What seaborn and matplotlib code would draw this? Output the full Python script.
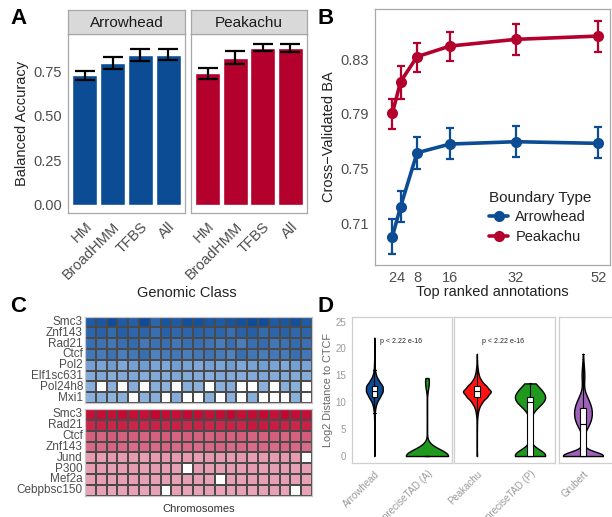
import numpy as np
import pandas as pd
import matplotlib
matplotlib.use("Agg")
from matplotlib import pyplot as plt
from matplotlib.colors import LinearSegmentedColormap
from matplotlib.lines import Line2D
import seaborn as sns

# ---------------- data ----------------
# A: balanced accuracy by genomic class
classes = ["HM", "BroadHMM", "TFBS", "All"]
arrow_ba = [0.727, 0.797, 0.843, 0.843]
arrow_lo = [0.700, 0.765, 0.810, 0.812]
arrow_hi = [0.755, 0.830, 0.875, 0.875]
peak_ba = [0.740, 0.827, 0.884, 0.882]
peak_lo = [0.710, 0.790, 0.864, 0.860]
peak_hi = [0.770, 0.865, 0.905, 0.903]

# B: cross-validated BA vs number of top annotations
top_n = [2, 4, 8, 16, 32, 52]
arrow_cv = [0.7002, 0.7221, 0.7616, 0.7680, 0.7697, 0.7685]
arrow_cv_lo = [0.6873, 0.7112, 0.7500, 0.7568, 0.7587, 0.7575]
arrow_cv_hi = [0.7131, 0.7338, 0.7733, 0.7795, 0.7812, 0.7802]
peak_cv = [0.7904, 0.8136, 0.8319, 0.8397, 0.8446, 0.8470]
peak_cv_lo = [0.7790, 0.8010, 0.8205, 0.8288, 0.8329, 0.8355]
peak_cv_hi = [0.8010, 0.8250, 0.8420, 0.8500, 0.8556, 0.8582]

# C: per-chromosome importance of top annotations (nan = not selected)
chroms = ["chr%d" % i for i in range(1, 22)]
na = np.nan
arrow_rows = ["Smc3", "Znf143", "Rad21", "Ctcf", "Pol2", "Elf1sc631", "Pol24h8", "Mxi1"]
arrow_imp = [
    [0.90, 0.92, 0.97, 0.90, 0.88, 0.98, 0.85, 0.93, 0.90, 0.96, 0.95, 0.92, 0.90, 0.93, 0.95, 0.98, 0.97, 0.90, 0.92, 0.96, 0.90],
    [0.85, 0.86, 0.82, 0.88, 0.84, 0.85, 0.80, 0.87, 0.83, 0.85, 0.86, 0.84, 0.85, 0.80, 0.86, 0.88, 0.82, 0.85, 0.86, 0.83, 0.85],
    [0.80, 0.78, 0.76, 0.80, 0.82, 0.75, 0.78, 0.80, 0.76, 0.80, 0.79, 0.77, 0.73, 0.80, 0.72, 0.80, 0.81, 0.76, 0.78, 0.82, 0.79],
    [0.76, 0.74, 0.78, 0.72, 0.75, 0.80, 0.70, 0.74, 0.76, 0.72, 0.75, 0.77, 0.74, 0.70, 0.80, 0.76, 0.73, 0.75, 0.74, 0.80, 0.76],
    [0.55, 0.52, 0.56, 0.50, 0.54, 0.56, 0.52, 0.50, 0.55, 0.53, 0.50, 0.54, 0.52, 0.56, 0.50, 0.53, 0.55, 0.52, 0.50, 0.54, 0.52],
    [0.48, 0.50, 0.46, 0.48, 0.50, 0.46, 0.48, 0.45, 0.50, 0.48, 0.47, 0.46, 0.50, 0.48, 0.45, 0.48, 0.50, 0.46, 0.48, 0.47, 0.45],
    [0.44, na, 0.42, na, 0.45, na, 0.43, 0.41, na, 0.44, 0.42, na, 0.43, 0.45, na, na, 0.42, na, 0.44, 0.43, na],
    [0.42, 0.44, 0.41, 0.43, na, 0.42, 0.44, na, 0.45, na, na, 0.43, na, 0.42, na, 0.44, na, na, na, 0.43, na],
]
peak_rows = ["Smc3", "Rad21", "Ctcf", "Znf143", "Jund", "P300", "Mef2a", "Cebpbsc150"]
peak_imp = [
    [0.93, 0.95, 0.94, 0.96, 0.94, 0.93, 0.97, 0.95, 0.94, 0.96, 0.95, 0.93, 0.95, 0.97, 0.94, 0.95, 0.96, 0.93, 0.97, 0.95, 0.94],
    [0.85, 0.86, 0.84, 0.87, 0.85, 0.84, 0.86, 0.85, 0.87, 0.84, 0.86, 0.85, 0.84, 0.86, 0.85, 0.90, 0.89, 0.88, 0.86, 0.85, 0.87],
    [0.62, 0.60, 0.63, 0.61, 0.62, 0.60, 0.61, 0.63, 0.60, 0.62, 0.61, 0.60, 0.63, 0.61, 0.62, 0.60, 0.61, 0.62, 0.60, 0.61, 0.63],
    [0.58, 0.57, 0.59, 0.58, 0.56, 0.58, 0.57, 0.59, 0.57, 0.58, 0.56, 0.58, 0.59, 0.57, 0.58, 0.56, 0.58, 0.57, 0.59, 0.58, 0.57],
    [0.30, 0.28, 0.31, 0.29, 0.30, 0.28, 0.30, 0.31, 0.29, 0.30, 0.28, 0.31, 0.29, 0.30, 0.31, 0.28, 0.30, 0.29, 0.31, 0.30, na],
    [0.28, 0.29, 0.27, 0.28, 0.30, 0.27, 0.29, 0.28, 0.27, na, 0.29, 0.28, 0.27, 0.29, 0.28, 0.30, 0.27, 0.28, 0.29, 0.27, 0.28],
    [0.26, 0.27, 0.25, 0.26, 0.27, 0.25, 0.26, 0.27, 0.25, 0.26, 0.27, 0.25, na, 0.26, 0.25, 0.27, 0.26, 0.25, 0.27, 0.26, 0.25],
    [0.25, 0.26, 0.24, 0.25, 0.26, 0.24, 0.25, na, 0.26, 0.24, 0.25, 0.26, 0.24, 0.25, 0.26, 0.24, 0.25, 0.26, 0.24, na, 0.25],
]

# D: log2 distance to CTCF, binned (value, count)
arrow_d_vals = [0, 1, 2, 3, 4, 5, 6, 7, 8, 9, 10, 11, 12, 13, 14, 15, 16, 17, 18, 19, 20, 21, 22]
arrow_d_cnts = [6, 1, 1, 1, 1, 2, 3, 5, 10, 25, 60, 140, 210, 210, 110, 40, 15, 8, 4, 2, 1, 1, 1]
ptad_a_vals = [0, 0.5, 1, 1.5, 2, 4, 6, 8, 10, 12, 13, 13.5, 14, 14.5]
ptad_a_cnts = [1500, 100, 50, 20, 6, 2, 2, 2, 2, 3, 20, 50, 60, 25]
peak_d_vals = [0, 1, 2, 3, 4, 5, 6, 7, 8, 9, 10, 11, 12, 13, 14, 15, 16, 17, 18, 19]
peak_d_cnts = [4, 1, 1, 1, 1, 2, 3, 6, 15, 35, 80, 160, 230, 150, 70, 30, 15, 6, 2, 1]
ptad_p_vals = [0, 0.5, 1, 1.5, 2, 4, 6, 7, 8, 9, 10, 11, 12, 13, 13.5]
ptad_p_cnts = [330, 80, 25, 5, 3, 3, 3, 5, 20, 60, 170, 200, 140, 80, 25]
grub_vals = [0, 0.5, 1, 2, 3, 4, 5, 6, 7, 8, 9, 10, 11, 12, 13, 14, 15, 16, 17, 18, 19]
grub_cnts = [250, 40, 15, 6, 6, 8, 30, 55, 70, 75, 70, 55, 35, 15, 8, 10, 12, 10, 6, 3, 1]
d_groups = ["Arrowhead", "preciseTAD (A)", "Peakachu", "preciseTAD (P)", "Grubert"]

# ---------------- style ----------------
sns.set_theme(style="white")
plt.rcParams['font.family'] = ['Liberation Sans', 'DejaVu Sans']

blue = "#0b4c94"
red = "#b3002d"
green = "#1f9a1f"
bright_red = "#ff1212"
purple = "#9e62b8"
txt = "#4d4d4d"
edge = "#a8a8a8"

W, H = 612, 517
fig = plt.figure(figsize=(W / 100, H / 100), dpi=100)


def box(x0, y0, x1, y1):
    # pixel box -> figure fraction rect
    return [x0 / W, 1 - y1 / H, (x1 - x0) / W, (y1 - y0) / H]


def frame(ax, color=edge):
    for s in ax.spines.values():
        s.set_visible(True)
        s.set_color(color)
        s.set_linewidth(0.9)


# ---------------- A ----------------
facets = [("Arrowhead", arrow_ba, arrow_lo, arrow_hi, blue, (68, 185)),
          ("Peakachu", peak_ba, peak_lo, peak_hi, red, (191, 307))]
for i, (name, ba, lo, hi, col, (x0, x1)) in enumerate(facets):
    ax = fig.add_axes(box(x0, 34, x1, 213))
    df = pd.DataFrame({"cls": classes, "ba": ba})
    sns.barplot(data=df, x="cls", y="ba", color=col, saturation=1, width=0.9,
                errorbar=None, ax=ax)
    pos = np.arange(len(classes))
    ax.errorbar(pos, ba, yerr=[np.subtract(ba, lo), np.subtract(hi, ba)], fmt="none",
                ecolor="black", elinewidth=1.6, capsize=7.5, capthick=1.6)
    ax.set_ylim(-0.045, 0.96)
    ax.set_xlim(-0.6, 3.6)
    ax.set_yticks([0, 0.25, 0.5, 0.75])
    ax.set_xlabel("")
    ax.set_ylabel("")
    ax.tick_params(axis="both", length=3, color="#666666", labelcolor=txt, labelsize=10.5, pad=1.5)
    ax.set_xticks(pos)
    ax.set_xticklabels(classes, rotation=45, ha="right", rotation_mode="anchor")
    if i == 0:
        ax.set_yticklabels(["0.00", "0.25", "0.50", "0.75"])
        ax.set_ylabel("Balanced Accuracy", fontsize=10.5, color="#222222", labelpad=3)
    else:
        ax.set_yticklabels([])
        ax.tick_params(axis="y", length=0)
    frame(ax)
    sax = fig.add_axes(box(x0, 10, x1, 34))
    sax.set_facecolor("#d9d9d9")
    sax.set_xticks([])
    sax.set_yticks([])
    frame(sax)
    sax.text(0.5, 0.47, name, ha="center", va="center", fontsize=11, color="#1a1a1a",
             transform=sax.transAxes)

fig.text(187 / W, 1 - 293 / H, "Genomic Class", ha="center", va="center", fontsize=10.5, color="#222222")

# ---------------- B ----------------
axb = fig.add_axes(box(375, 9, 610, 265))
dfb = pd.DataFrame({
    "n": top_n * 2,
    "ba": arrow_cv + peak_cv,
    "type": ["Arrowhead"] * len(top_n) + ["Peakachu"] * len(top_n),
})
pal = {"Arrowhead": blue, "Peakachu": red}
sns.lineplot(data=dfb, x="n", y="ba", hue="type", palette=pal, marker="o", markersize=8,
             markeredgewidth=0, linewidth=2.6, legend=False, ax=axb)
for vals, lo, hi, col in [(arrow_cv, arrow_cv_lo, arrow_cv_hi, blue),
                          (peak_cv, peak_cv_lo, peak_cv_hi, red)]:
    axb.errorbar(top_n, vals, yerr=[np.subtract(vals, lo), np.subtract(hi, vals)], fmt="none",
                 ecolor=col, elinewidth=1.6, capsize=2.6, capthick=1.6)
axb.set_xlim(-2.2, 54.8)
axb.set_ylim(0.6795, 0.8668)
axb.set_xticks(top_n)
axb.set_yticks([0.71, 0.75, 0.79, 0.83])
axb.set_yticklabels(["0.71", "0.75", "0.79", "0.83"])
axb.tick_params(axis="both", length=3, color="#666666", labelcolor=txt, labelsize=10.5, pad=1.5)
axb.set_xlabel("Top ranked annotations", fontsize=10.5, color="#222222", labelpad=0)
axb.set_ylabel("Cross\u2212Validated BA", fontsize=10.5, color="#222222", labelpad=3)
frame(axb)
handles = [Line2D([], [], color=c, marker="o", markersize=8, linewidth=2.6, markeredgewidth=0)
           for c in (blue, red)]
leg = axb.legend(handles, ["Arrowhead", "Peakachu"], title="Boundary Type", loc="lower left",
                 bbox_to_anchor=(0.43, 0.03), frameon=False, fontsize=10.5, title_fontsize=11,
                 handlelength=1.3, handletextpad=0.5, labelspacing=0.4, alignment="left")
for t in leg.get_texts():
    t.set_color("#222222")
leg.get_title().set_color("#222222")

# ---------------- C ----------------
cmap_a = LinearSegmentedColormap.from_list("arrow", ["#c9dcf0", "#7fa8d8", "#084898"])
cmap_p = LinearSegmentedColormap.from_list("peak", ["#f5c9d5", "#dc7c96", "#c2002a"])
heat = [(arrow_rows, arrow_imp, cmap_a, (316.7, 403)), (peak_rows, peak_imp, cmap_p, (409, 495.7))]
for j, (rows, imp, cm, (y0, y1)) in enumerate(heat):
    axh = fig.add_axes(box(85, y0, 312, y1))
    mat = pd.DataFrame(imp, index=rows, columns=chroms)
    sns.heatmap(mat, cmap=cm, vmin=0, vmax=1, cbar=False, linewidths=0.35, linecolor="#4a4a4a",
                xticklabels=False, yticklabels=True, ax=axh)
    axh.tick_params(axis="y", length=0, pad=1.5, labelsize=8.5, labelcolor=txt)
    axh.set_yticklabels(rows, rotation=0)
    axh.set_ylabel("")
    axh.set_xlabel("")
    frame(axh, "#c8c8c8")
    if j == 1:
        axh.set_xlabel("Chromosomes", fontsize=8, color="#333333", labelpad=6)

# ---------------- D ----------------
violins = {
    "Arrowhead": (arrow_d_vals, arrow_d_cnts, blue, 0.32, 0.9),
    "preciseTAD (A)": (ptad_a_vals, ptad_a_cnts, green, 0.80, 1.4),
    "Peakachu": (peak_d_vals, peak_d_cnts, bright_red, 0.52, 0.9),
    "preciseTAD (P)": (ptad_p_vals, ptad_p_cnts, green, 0.57, 0.8),
    "Grubert": (grub_vals, grub_cnts, purple, 0.76, 0.55),
}
d_facets = [(d_groups[0:2], (351.7, 451.7), (-0.43, 1.47)),
            (d_groups[2:4], (454, 555), (-0.43, 1.47)),
            (d_groups[4:5], (559.3, 614), (-0.45, 0.59))]
for k, (order, (x0, x1), xl) in enumerate(d_facets):
    axd = fig.add_axes(box(x0, 316.7, x1, 463.3))
    for g in order:
        vals, cnts, col, w, bw = violins[g]
        dfv = pd.DataFrame({"grp": g, "dist": np.repeat(vals, cnts)})
        sns.violinplot(data=dfv, x="grp", y="dist", order=order, color=col, saturation=1,
                       inner=None, cut=0, density_norm="width", width=w, bw_adjust=bw,
                       linewidth=1.0, linecolor="black", ax=axd)
        sns.boxplot(data=dfv, x="grp", y="dist", order=order, color="white", saturation=1,
                    width=0.1, linewidth=0.8, linecolor="black", showfliers=False, ax=axd)
    axd.set_xlim(*xl)
    axd.set_ylim(-1.35, 25.9)
    axd.set_yticks([0, 5, 10, 15, 20, 25])
    axd.set_xlabel("")
    axd.set_ylabel("")
    axd.tick_params(axis="both", length=2.5, color="#aaaaaa", labelcolor="#9a9a9a", labelsize=7, pad=1.5)
    axd.set_xticks(range(len(order)))
    axd.set_xticklabels(order, rotation=45, ha="right", rotation_mode="anchor")
    if k == 0:
        axd.set_ylabel("Log2 Distance to CTCF", fontsize=7.8, color="#666666", labelpad=2)
    else:
        axd.set_yticklabels([])
        axd.tick_params(axis="y", length=0)
    if k < 2:
        axd.text(0.5, 21.3, "p < 2.22 e-16", ha="center", va="center", fontsize=5, color="#222222")
    frame(axd, "#cfcfcf")

# panel letters
for lab, x, y in [("A", 10, 8), ("B", 317, 8), ("C", 10, 296), ("D", 317, 296)]:
    fig.text(x / W, 1 - y / H, lab, ha="left", va="top", fontsize=16, fontweight="bold", color="black")

fig.savefig("out.png", dpi=100)
